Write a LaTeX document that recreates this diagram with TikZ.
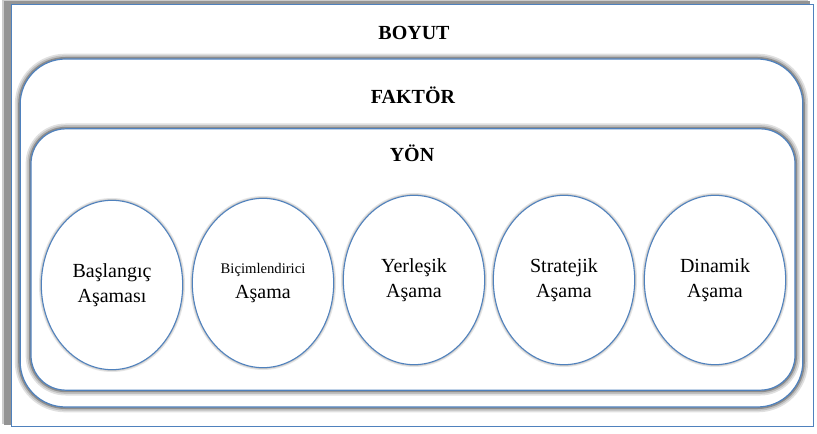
\documentclass[tikz,border=0pt]{standalone}
\usepackage{fontspec}
\setmainfont{Liberation Serif}
\newfontfamily\timesfont{Liberation Serif}
\usetikzlibrary{positioning,shapes.geometric}
\definecolor{lineblue}{RGB}{79,129,189}
\begin{document}
\begin{tikzpicture}[
        x=0.75pt,
        y=-0.75pt,
        font=\timesfont\fontsize{15}{18.75}\selectfont
    ]
    \tikzset{
        glow/.style = {preaction={draw=black!12, line width=8pt},
                       preaction={draw=black!25, line width=5.5pt},
                       preaction={draw=black!45, line width=3pt}},
        softglow/.style = {preaction={draw=black!10, line width=3.5pt},
                           preaction={draw=black!22, line width=1.8pt}},
        boyutbox/.style = {rectangle, draw=lineblue, fill=white, line width=0.9pt,
                           minimum width=602pt, minimum height=317pt},
        faktorbox/.style = {rectangle, rounded corners=34pt, glow, draw=lineblue,
                            fill=white, line width=0.9pt,
                            minimum width=587pt, minimum height=261pt},
        yonbox/.style = {rectangle, rounded corners=26pt, glow, draw=lineblue,
                         fill=white, line width=0.9pt,
                         minimum width=573pt, minimum height=196pt},
        asama/.style = {ellipse, softglow, draw=lineblue, fill=white, line width=0.8pt,
                        minimum width=106pt, minimum height=127pt, inner sep=0pt,
                        align=center},
        baslik/.style = {font=\timesfont\fontsize{15}{18}\selectfont\bfseries},
    }
        \useasboundingbox (0,0) rectangle (817,434);
        % outer frame with its shadow
        \fill[black!20] (2,0) rectangle (808,424);
        \fill[black!42] (4,1) rectangle (810,425);
        \node[boyutbox] (boyut) at (412.5,215.5) {};
        \node[baslik] (boyutlbl) at (414,33) {BOYUT};
        %
        \node[faktorbox] (faktor) at (411.5,233) {};
        \node[baslik] (faktorlbl) at (413,95) {FAKTÖR};
        %
        \node[yonbox] (yon) at (413,259.5) {};
        \node[baslik] (yonlbl) at (412,153) {YÖN};
        %
        \node[asama] (baslangic) at (112,285) {Başlangıç\\Aşaması};
        \node[asama] (bicim) at (263,283) {{\fontsize{11}{13}\selectfont Biçimlendirici}\\Aşama};
        \node[asama] (yerlesik) at (414,280) {Yerleşik\\Aşama};
        \node[asama] (stratejik) at (564,280) {Stratejik\\Aşama};
        \node[asama] (dinamik) at (715,280) {Dinamik\\Aşama};
\end{tikzpicture}
\end{document}
